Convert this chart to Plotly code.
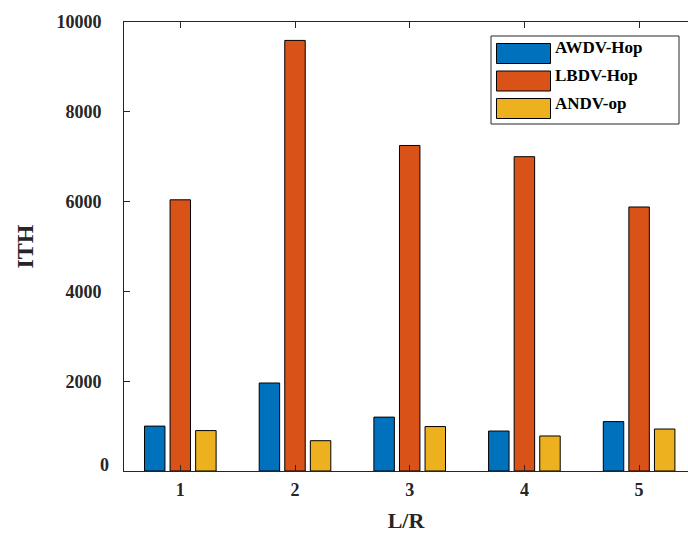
import plotly.graph_objects as go

# Data
groups = [1, 2, 3, 4, 5]
series_names = ["AWDV-Hop", "LBDV-Hop", "ANDV-op"]
awdv_hop = [1000, 1960, 1200, 890, 1100]
lbdv_hop = [6040, 9590, 7250, 7000, 5880]
andv_op = [900, 675, 990, 780, 935]
y_ticks = [0, 2000, 4000, 6000, 8000, 10000]

colors = ["#0072BD", "#D95319", "#EDB120"]
series_values = [awdv_hop, lbdv_hop, andv_op]

W, H = 688, 539
ML, MR, MT, MB = 124, 0, 22, 68
PW, PH = W - ML - MR, H - MT - MB
UNIT = 114.7          # pixels per group on the x axis
X0 = 1 - 56.3 / UNIT  # left end of the x range


def px_x(px):
    return (px - ML) / PW


def px_y(py):
    return (H - MB - py) / PH


FONT = "Liberation Serif"
AX = "#262626"

fig = go.Figure()
for name, vals, col in zip(series_names, series_values, colors):
    fig.add_trace(go.Bar(
        x=groups, y=vals, name=name,
        marker=dict(color=col, line=dict(color="#000000", width=1)),
        showlegend=False,
    ))

# Boxed legend with wide colour patches
shapes = [dict(type="rect", xref="paper", yref="paper",
               x0=px_x(491), x1=px_x(679), y0=px_y(124), y1=px_y(36),
               line=dict(color=AX, width=1), fillcolor="white", layer="above")]
annotations = []
row_tops = [43.5, 71, 98.5]
for name, col, top in zip(series_names, colors, row_tops):
    shapes.append(dict(type="rect", xref="paper", yref="paper",
                       x0=px_x(496.5), x1=px_x(550.5),
                       y0=px_y(top + 20), y1=px_y(top),
                       line=dict(color="#000000", width=1), fillcolor=col,
                       layer="above"))
    annotations.append(dict(xref="paper", yref="paper",
                            x=px_x(553), y=px_y(top + 4.5),
                            xanchor="left", yanchor="middle", showarrow=False,
                            text="<b>%s</b>" % name,
                            font=dict(family=FONT, size=17, color="#000000")))

# the zero label sits a little up and to the right of the others
y_ticktext = ["<b>%d</b>" % v for v in y_ticks]
y_ticktext[0] = ""
annotations.append(dict(xref="paper", yref="paper",
                        x=px_x(111), y=px_y(465),
                        xanchor="right", yanchor="middle", showarrow=False,
                        text="<b>%d</b>" % y_ticks[0],
                        font=dict(family=FONT, size=18, color=AX)))

fig.update_layout(
    width=W, height=H,
    margin=dict(l=ML, r=MR, t=MT, b=MB, pad=0),
    paper_bgcolor="white", plot_bgcolor="white",
    barmode="group", bargap=0.331, bargroupgap=0.2,
    font=dict(family=FONT, color=AX),
    shapes=shapes, annotations=annotations,
)

fig.update_xaxes(
    range=[X0, X0 + PW / UNIT],
    tickvals=groups, ticktext=["<b>%d</b>" % g for g in groups],
    ticks="inside", ticklen=6, tickcolor=AX, tickwidth=1,
    showline=True, linecolor=AX, linewidth=1, mirror="ticks",
    showgrid=False, zeroline=False,
    tickfont=dict(family=FONT, size=18, color=AX),
    ticklabelstandoff=2,
    title=dict(text="<b>L/R</b>", font=dict(family=FONT, size=22, color=AX),
               standoff=14),
)
fig.update_yaxes(
    range=[0, 10000],
    tickvals=y_ticks, ticktext=y_ticktext,
    ticks="inside", ticklen=6, tickcolor=AX, tickwidth=1,
    showline=True, linecolor=AX, linewidth=1, mirror=False,
    showgrid=False, zeroline=False,
    tickfont=dict(family=FONT, size=18, color=AX),
    ticklabelstandoff=18,
    title=dict(text="<b>ITH</b>", font=dict(family=FONT, size=24, color=AX),
               standoff=16),
)

fig.write_html("out.html")
